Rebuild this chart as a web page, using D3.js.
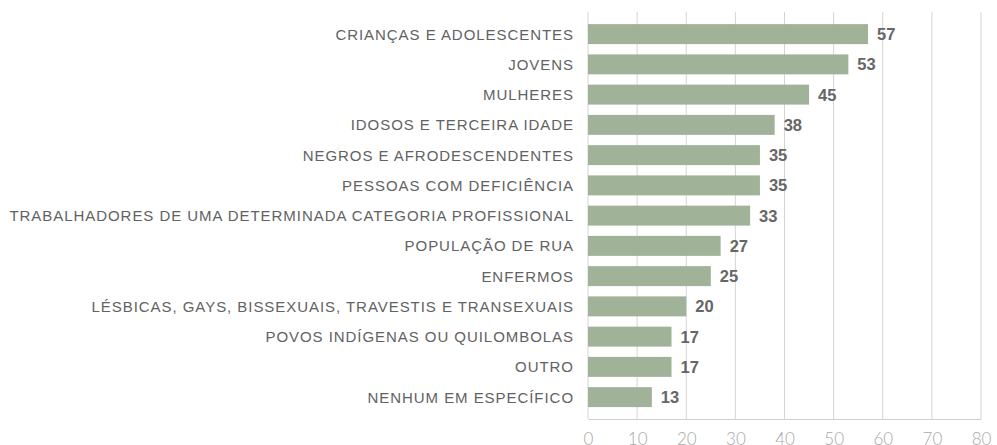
<!DOCTYPE html>
<html>
<head>
<meta charset="utf-8">
<script src="https://cdn.jsdelivr.net/npm/d3@7"></script>
<style>
  body { margin: 0; background: #fff; }
  svg { display: block; }
</style>
</head>
<body>
<svg id="chart" width="997" height="445"></svg>
<script>
// ── Data ──────────────────────────────────────────────────
const categories = [
  'CRIANÇAS E ADOLESCENTES',
  'JOVENS',
  'MULHERES',
  'IDOSOS E TERCEIRA IDADE',
  'NEGROS E AFRODESCENDENTES',
  'PESSOAS COM DEFICIÊNCIA',
  'TRABALHADORES DE UMA DETERMINADA CATEGORIA PROFISSIONAL',
  'POPULAÇÃO DE RUA',
  'ENFERMOS',
  'LÉSBICAS, GAYS, BISSEXUAIS, TRAVESTIS E TRANSEXUAIS',
  'POVOS INDÍGENAS OU QUILOMBOLAS',
  'OUTRO',
  'NENHUM EM ESPECÍFICO'
];
const values = [57, 53, 45, 38, 35, 35, 33, 27, 25, 20, 17, 17, 13];
const xTicks = [0, 10, 20, 30, 40, 50, 60, 70, 80];

// ── Setup ─────────────────────────────────────────────────
const svg = d3.select('#chart');
const FONT = '"Liberation Sans", Arial, sans-serif';
const LIGHT = 'Lato, "Liberation Sans", sans-serif';

const x = d3.scaleLinear().domain([0, 80]).range([588, 981]);
const y = d3.scaleBand().domain(categories).range([19, 412.25]).paddingInner(0.34).paddingOuter(0.17);

const gridTop = 12, gridBottom = 419;

// gridlines
svg.append('g')
  .selectAll('line')
  .data(xTicks)
  .enter()
  .append('line')
  .attr('x1', d => x(d)).attr('x2', d => x(d))
  .attr('y1', gridTop).attr('y2', gridBottom)
  .attr('stroke', '#d4d4d4')
  .attr('stroke-width', 1);

// bottom axis
const axis = svg.append('g')
  .attr('transform', `translate(0,${gridBottom})`)
  .call(d3.axisBottom(x).tickValues(xTicks).tickSize(0).tickPadding(14));
axis.select('.domain').attr('stroke', '#cfcfcf');
axis.selectAll('text')
  .attr('font-family', LIGHT)
  .attr('font-size', 17)
  .attr('font-weight', 300)
  .attr('fill', '#a8a8a8');

// bars
svg.append('g')
  .selectAll('rect')
  .data(values)
  .enter()
  .append('rect')
  .attr('x', x(0))
  .attr('y', (d, i) => y(categories[i]))
  .attr('width', d => x(d) - x(0))
  .attr('height', y.bandwidth())
  .attr('fill', '#a0b298');

// value labels
svg.append('g')
  .selectAll('text')
  .data(values)
  .enter()
  .append('text')
  .attr('x', d => x(d) + 9)
  .attr('y', (d, i) => y(categories[i]) + y.bandwidth() / 2)
  .attr('dy', '0.36em')
  .attr('font-family', FONT)
  .attr('font-size', 16.5)
  .attr('font-weight', 'bold')
  .attr('fill', '#666666')
  .text(d => d);

// category labels
svg.append('g')
  .selectAll('text')
  .data(categories)
  .enter()
  .append('text')
  .attr('x', 574)
  .attr('y', d => y(d) + y.bandwidth() / 2)
  .attr('dy', '0.36em')
  .attr('text-anchor', 'end')
  .attr('font-family', FONT)
  .attr('font-size', 15)
  .attr('letter-spacing', 0.95)
  .attr('fill', '#626262')
  .text(d => d);
</script>
</body>
</html>
